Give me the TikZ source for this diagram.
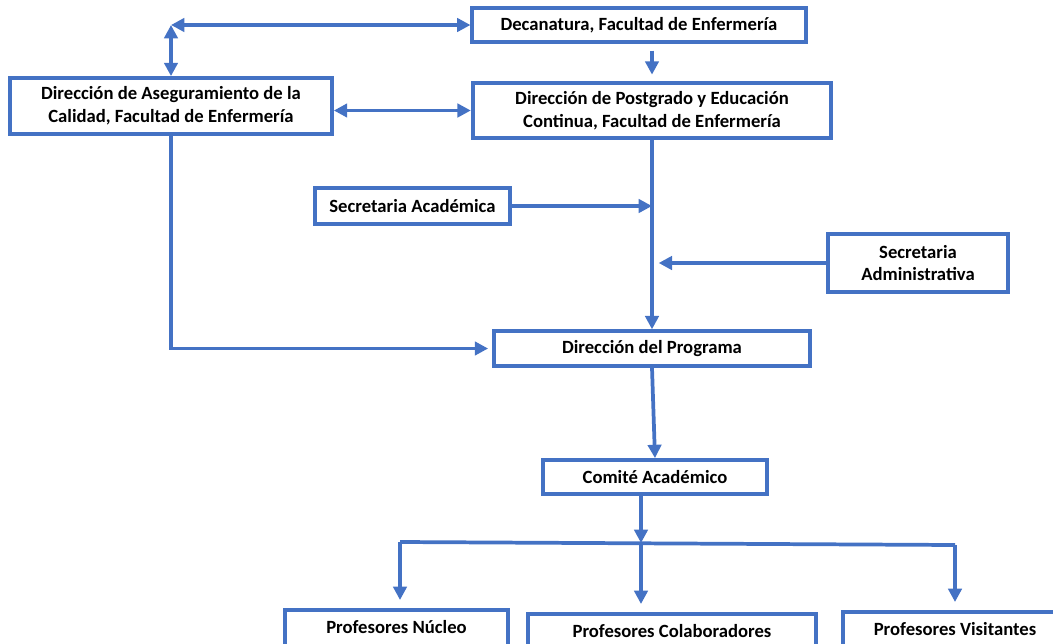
\documentclass[tikz,border=0pt]{standalone}
\usepackage{fontspec}
\setmainfont{Carlito}
\usetikzlibrary{arrows.meta}
\definecolor{orgblue}{HTML}{4472C4}
\tikzstyle{unit} = [rectangle, draw=orgblue, line width=2.8pt, fill=white, align=center, font=\fontsize{14}{17}\selectfont\bfseries, inner sep=2pt]
\tikzstyle{lowunit} = [unit, anchor=north, inner ysep=3pt, text height=14.5pt, text depth=20pt]
\tikzstyle{arrow} = [orgblue, line width=2.8pt, -{Triangle[length=10pt,width=10pt]}]
\tikzstyle{twoway} = [orgblue, line width=2.8pt, {Triangle[length=10pt,width=10pt]}-{Triangle[length=10pt,width=10pt]}]
\tikzstyle{link} = [orgblue, line width=2.8pt]

\begin{document}
\begin{tikzpicture}[x=0.75pt, y=-0.75pt]
        \useasboundingbox (0,0) rectangle (1053,643);
        \clip (0,0) rectangle (1053,643);
        \node (decanatura) [unit, minimum width=250pt, minimum height=25.5pt] at (639,25) {Decanatura, Facultad de Enfermería};
        \node (postgrado) [unit, minimum width=269pt, minimum height=41pt] at (652,110.5) {Dirección de Postgrado y Educación\\Continua, Facultad de Enfermería};
        \node (calidad) [unit, minimum width=241.5pt, minimum height=42pt] at (171,106) {Dirección de Aseguramiento de la\\Calidad, Facultad de Enfermería};
        \node (academica) [unit, minimum width=146pt, minimum height=27pt] at (412.5,206) {Secretaria Académica};
        \node (administrativa) [unit, minimum width=135pt, minimum height=43.5pt] at (918,263) {Secretaria\\Administrativa};
        \node (programa) [unit, minimum width=237pt, minimum height=26pt] at (652,348.5) {Dirección del Programa};
        \node (comite) [unit, minimum width=168pt, minimum height=25.5pt] at (655,477) {Comité Académico};
        \node (nucleo) [lowunit, minimum width=167pt] at (396.5,608) {Profesores Núcleo};
        \node (colaboradores) [lowunit, minimum width=216pt] at (672,612) {Profesores Colaboradores};
        \node (visitantes) [lowunit, minimum width=168pt] at (955,610) {Profesores Visitantes};

        \coordinate (corner) at (171,25);
        \coordinate (bus) at (641,543);
        \coordinate (busleft) at (400,542);
        \coordinate (busright) at (955,545);

        \draw [twoway] (corner) -- (decanatura.west);
        \draw [twoway] (corner) -- (calidad.north);
        \draw [arrow, shorten <=5pt, shorten >=5pt] (decanatura.south -| postgrado.north) -- (postgrado.north);
        \draw [twoway] (calidad.east |- postgrado.west) -- (postgrado.west);
        \draw [arrow] (postgrado.south) -- (programa.north);
        \draw [arrow] (academica.east) -- (academica.east -| postgrado.south);
        \draw [arrow, shorten >=5pt] (administrativa.west) -- (administrativa.west -| postgrado.south);
        \draw [arrow, shorten >=3pt] (calidad.south) |- (programa.west);
        \draw [arrow] (programa.south) -- (comite.north);
        \draw [arrow] (comite.south -| bus) -- (bus);
        \draw [link] (busleft) -- (busright);
        \draw [arrow, shorten >=6pt] (busleft) -- (nucleo.north -| busleft);
        \draw [arrow, shorten >=6pt] (bus) -- (colaboradores.north -| bus);
        \draw [arrow, shorten >=6pt] (busright) -- (visitantes.north -| busright);
    \end{tikzpicture}
\end{document}
